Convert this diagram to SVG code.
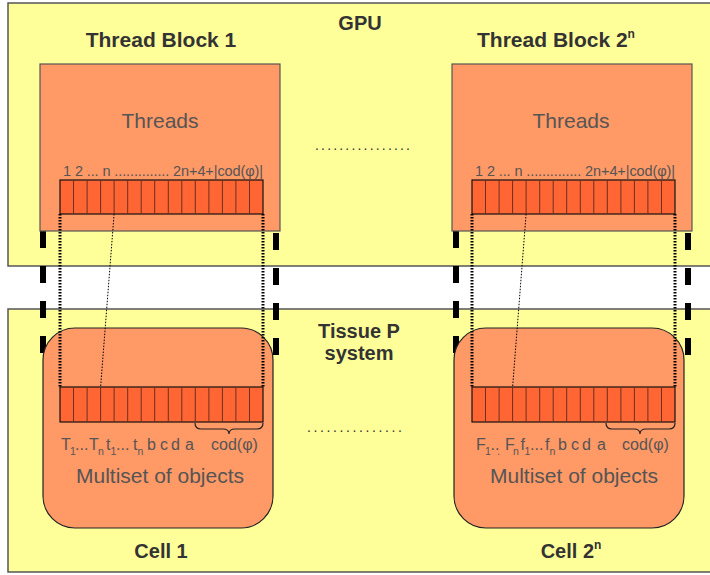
<svg xmlns="http://www.w3.org/2000/svg" width="710" height="575" viewBox="0 0 710 575">
<defs>
<style>
.area{fill:#ffff99;stroke:#555;stroke-width:1.5}
.block{fill:#ff9966;stroke:#555;stroke-width:1.2}
.cell{fill:#ff9966;stroke:#222;stroke-width:1.2}
.arr{fill:#ff6633;stroke:#111;stroke-width:1.2}
.div{stroke:#6b3020;stroke-width:1}
.bold{font-family:"Liberation Sans",Arial,sans-serif;font-weight:bold;fill:#333;text-anchor:middle}
.big{font-family:"Liberation Sans",Arial,sans-serif;fill:#555;font-size:21px;text-anchor:middle}
.lbl{font-family:"Liberation Sans",Arial,sans-serif;fill:#555;font-size:14.5px}
.obj{font-family:"Liberation Sans",Arial,sans-serif;fill:#555;font-size:16px}
.sub{font-size:10.5px}
.dash{stroke:#000;stroke-width:6;stroke-dasharray:17 18;fill:none}
.thick{stroke:#000;stroke-width:3;stroke-dasharray:1.5 1.5;fill:none}
.thin{stroke:#000;stroke-width:1;stroke-dasharray:1.5 1.5;fill:none}
.brace{stroke:#222;stroke-width:1.2;fill:none}
.dots{font-family:"Liberation Sans",Arial,sans-serif;fill:#333;font-size:14px}
</style>
</defs>
<rect width="710" height="575" fill="#fff"/>
<g id="gpu">
<rect class="area" x="8" y="3" width="712" height="263"/>
<text class="bold" x="360" y="30" font-size="20">GPU</text>
</g>
<g id="tissue">
<rect class="area" x="8" y="309" width="712" height="263"/>
<text class="bold" x="359" y="338" font-size="20">Tissue P</text>
<text class="bold" x="359" y="360" font-size="20">system</text>
</g>
<g id="connectors-dashed">
<line class="dash" x1="43" y1="231" x2="43" y2="356"/>
<line class="dash" x1="276" y1="233" x2="276" y2="358"/>
<line class="dash" x1="456" y1="231" x2="456" y2="356"/>
<line class="dash" x1="688" y1="233" x2="688" y2="358"/>
</g>
<g id="block1">
<rect class="block" x="40" y="64" width="240" height="167"/>
<text class="bold" x="161" y="47" font-size="21">Thread Block 1</text>
<text class="big" x="160" y="128">Threads</text>
<text class="lbl" x="63" y="176" textLength="200" lengthAdjust="spacing">1  2 ... n .............. 2n+4+|cod(φ)|</text>
<rect class="arr" x="60" y="180" width="203" height="34"/>
<path class="div" d="M73.5,180v34M87.1,180v34M100.6,180v34M114.1,180v34M127.7,180v34M141.2,180v34M154.7,180v34M168.3,180v34M181.8,180v34M195.3,180v34M208.9,180v34M222.4,180v34M235.9,180v34M249.5,180v34"/>
</g>
<g id="block2">
<rect class="block" x="452" y="64" width="240" height="167"/>
<text class="bold" x="556" y="47" font-size="21">Thread Block 2<tspan font-size="12" dy="-9">n</tspan></text>
<text class="big" x="571" y="128">Threads</text>
<text class="lbl" x="475" y="176" textLength="200" lengthAdjust="spacing">1  2 ... n .............. 2n+4+|cod(φ)|</text>
<rect class="arr" x="472" y="180" width="203" height="34"/>
<path class="div" d="M485.5,180v34M499.1,180v34M512.6,180v34M526.1,180v34M539.7,180v34M553.2,180v34M566.7,180v34M580.3,180v34M593.8,180v34M607.3,180v34M620.9,180v34M634.4,180v34M647.9,180v34M661.5,180v34"/>
</g>
<text class="dots" x="315" y="150" textLength="95">................</text>
<g id="cell1">
<rect class="cell" x="43" y="328" width="230" height="200" rx="32" ry="32"/>
<rect class="arr" x="60" y="387" width="203" height="35"/>
<path class="div" d="M73.5,387v35M87.1,387v35M100.6,387v35M114.1,387v35M127.7,387v35M141.2,387v35M154.7,387v35M168.3,387v35M181.8,387v35M195.3,387v35M208.9,387v35M222.4,387v35M235.9,387v35M249.5,387v35"/>
<path class="brace" d="M195,423q0,6 6,6h22q6,0 6,5q0,-5 6,-5h22q6,0 6,-6"/>
<text class="obj" y="450"><tspan x="61">T</tspan><tspan class="sub" x="70" dy="5">1</tspan><tspan x="75" dy="-5">...</tspan><tspan x="89">T</tspan><tspan class="sub" x="98" dy="5">n</tspan><tspan x="106" dy="-5">t</tspan><tspan class="sub" x="110.5" dy="5">1</tspan><tspan x="116" dy="-5">...</tspan><tspan x="133">t</tspan><tspan class="sub" x="137.5" dy="5">n</tspan><tspan x="147" dy="-5">b</tspan><tspan x="160">c</tspan><tspan x="171">d</tspan><tspan x="185">a</tspan><tspan x="211">cod(φ)</tspan></text>
<text class="big" x="160" y="483">Multiset of objects</text>
<text class="bold" x="161" y="558" font-size="20">Cell 1</text>
</g>
<g id="cell2">
<rect class="cell" x="454" y="328" width="230" height="200" rx="32" ry="32"/>
<rect class="arr" x="472" y="387" width="203" height="35"/>
<path class="div" d="M485.5,387v35M499.1,387v35M512.6,387v35M526.1,387v35M539.7,387v35M553.2,387v35M566.7,387v35M580.3,387v35M593.8,387v35M607.3,387v35M620.9,387v35M634.4,387v35M647.9,387v35M661.5,387v35"/>
<path class="brace" d="M606,423q0,6 6,6h22q6,0 6,5q0,-5 6,-5h23q6,0 6,-6"/>
<text class="obj" y="450"><tspan x="476">F</tspan><tspan class="sub" x="485" dy="5">1</tspan><tspan x="490.5" dy="-5">..</tspan><tspan class="sub" x="497" dy="5">.</tspan><tspan x="505" dy="-5">F</tspan><tspan class="sub" x="513" dy="5">n</tspan><tspan x="520.5" dy="-5">f</tspan><tspan class="sub" x="524.5" dy="5">1</tspan><tspan x="530" dy="-5">...</tspan><tspan x="545">f</tspan><tspan class="sub" x="549.5" dy="5">n</tspan><tspan x="558" dy="-5">b</tspan><tspan x="571">c</tspan><tspan x="582">d</tspan><tspan x="597">a</tspan><tspan x="622">cod(φ)</tspan></text>
<text class="big" x="574" y="483">Multiset of objects</text>
<text class="bold" x="571" y="558" font-size="20">Cell 2<tspan font-size="12" dy="-9">n</tspan></text>
</g>
<text class="dots" x="307" y="432" textLength="95">...............</text>
<g id="connectors">
<line class="thick" x1="60" y1="214" x2="60" y2="387"/>
<line class="thick" x1="263" y1="214" x2="263" y2="387"/>
<line class="thick" x1="472" y1="214" x2="472" y2="387"/>
<line class="thick" x1="675" y1="214" x2="675" y2="387"/>
<line class="thin" x1="114.1" y1="214" x2="100.6" y2="387"/>
<line class="thin" x1="526.1" y1="214" x2="512.6" y2="387"/>
</g>
</svg>
